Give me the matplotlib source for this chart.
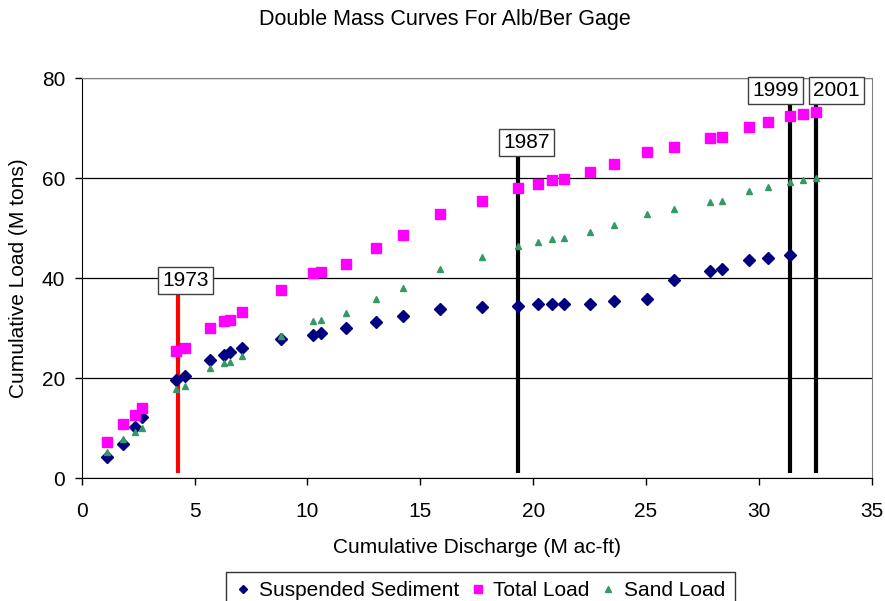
import matplotlib
matplotlib.use("Agg")
import matplotlib.pyplot as plt
from matplotlib.lines import Line2D

plt.rcParams["font.family"] = ["Liberation Sans", "DejaVu Sans"]

# Cumulative discharge (M ac-ft) at each year of record
discharge = [1.13, 1.84, 2.36, 2.69, 4.17, 4.58, 5.70, 6.29, 6.56, 7.12,
             8.83, 10.26, 10.60, 11.70, 13.03, 14.24, 15.88, 17.72, 19.33, 20.20,
             20.85, 21.37, 22.52, 23.60, 25.03, 26.24, 27.84, 28.36, 29.55, 30.41,
             31.38, 31.94, 32.53]

# Cumulative loads (M tons)
suspended = [4.3, 6.9, 10.2, 12.2, 19.7, 20.5, 23.6, 24.7, 25.3, 26.1,
             27.9, 28.7, 29.1, 30.0, 31.2, 32.4, 33.9, 34.3, 34.4, 34.8,
             34.9, 34.9, 34.9, 35.4, 35.9, 39.7, 41.4, 41.8, 43.7, 44.0,
             44.6]
total = [7.3, 10.9, 12.7, 14.0, 25.4, 26.0, 30.1, 31.4, 31.7, 33.2,
         37.7, 41.0, 41.3, 42.9, 46.0, 48.6, 52.9, 55.5, 58.1, 58.9,
         59.6, 59.9, 61.3, 62.8, 65.2, 66.3, 68.0, 68.3, 70.3, 71.2,
         72.5, 72.8, 73.3]
sand = [5.2, 7.8, 9.3, 10.1, 17.9, 18.4, 22.1, 23.1, 23.3, 24.5,
        28.4, 31.5, 31.6, 33.0, 35.8, 38.1, 41.9, 44.2, 46.5, 47.3,
        47.9, 48.1, 49.3, 50.7, 52.9, 53.9, 55.2, 55.5, 57.4, 58.2,
        59.3, 59.7, 60.0]

# Reference years marked with vertical lines
event_labels = ["1973", "1987", "1999", "2001"]
event_x = [4.25, 19.34, 31.38, 32.55]
event_top = [37.0, 64.5, 75.0, 75.0]
event_colors = ["#ff0000", "black", "black", "black"]
event_label_x = [4.6, 19.7, 30.75, 33.45]
event_label_y = [39.5, 67.2, 77.6, 77.6]

x_ticks = [0, 5, 10, 15, 20, 25, 30, 35]
y_ticks = [0, 20, 40, 60, 80]

FS = 15

fig = plt.figure(figsize=(8.85, 6.01), dpi=100)
ax = fig.add_axes([81.7 / 885, 1 - 478.3 / 601, (871.7 - 81.7) / 885, 400 / 601])

ax.set_xlim(0, 35)
ax.set_ylim(0, 80)
ax.set_xticks(x_ticks)
ax.set_yticks(y_ticks)
ax.tick_params(labelsize=FS, direction="out", length=5, width=1)
ax.tick_params(axis="x", pad=12)
ax.tick_params(axis="y", pad=7)
ax.grid(axis="y", color="black", linewidth=0.9)
ax.set_axisbelow(True)
for side in ["top", "right"]:
    ax.spines[side].set_color("#808080")
for side in ["left", "bottom"]:
    ax.spines[side].set_color("black")

for xv, top, col in zip(event_x, event_top, event_colors):
    ax.vlines(xv, 1.0, top, color=col, linewidth=3, zorder=3)

ax.plot(discharge[:len(suspended)], suspended, linestyle="none", marker="D",
        markersize=6, color="#000080", zorder=4)
ax.plot(discharge, total, linestyle="none", marker="s",
        markersize=6.5, color="#ff00ff", zorder=4)
ax.plot(discharge, sand, linestyle="none", marker="^",
        markersize=5, color="#339966", zorder=4)

for lab, lx, ly in zip(event_labels, event_label_x, event_label_y):
    ax.text(lx, ly, lab, fontsize=FS, ha="center", va="center", zorder=5,
            bbox=dict(boxstyle="square,pad=0.2", fc="white", ec="#404040", lw=1))

ax.set_xlabel("Cumulative Discharge (M ac-ft)", fontsize=FS, labelpad=12)
ax.set_ylabel("Cumulative Load (M tons)", fontsize=FS, labelpad=10)
fig.text(0.503, 1 - 19 / 601, "Double Mass Curves For Alb/Ber Gage",
         fontsize=15.5, ha="center", va="center")

handles = [
    Line2D([], [], linestyle="none", marker="D", markersize=4.5, color="#000080"),
    Line2D([], [], linestyle="none", marker="s", markersize=5.5, color="#ff00ff"),
    Line2D([], [], linestyle="none", marker="^", markersize=4.5, color="#339966"),
]
fig.legend(handles, ["Suspended Sediment", "Total Load", "Sand Load"],
           loc="upper center", bbox_to_anchor=(480.5 / 885, 1 - 572 / 601),
           ncol=3, fontsize=FS, frameon=True, fancybox=False,
           edgecolor="black", handlelength=0.7, handletextpad=0.4,
           columnspacing=0.55, borderpad=0.45, borderaxespad=0)

fig.savefig("out.png", dpi=100, facecolor="white")
